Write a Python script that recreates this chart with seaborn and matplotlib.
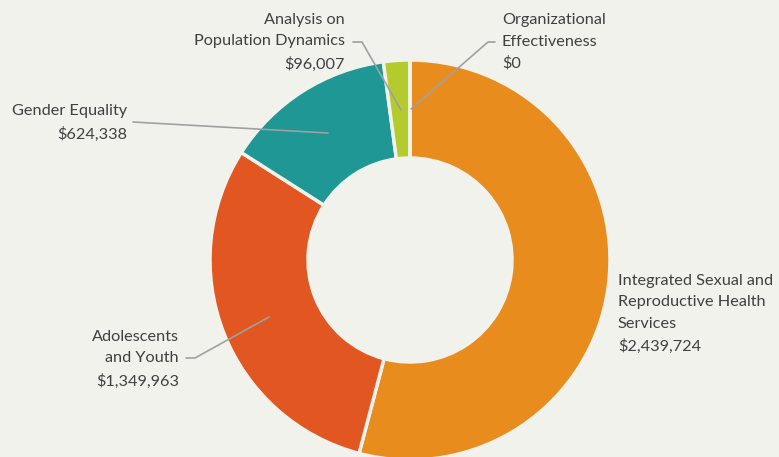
import matplotlib.pyplot as plt
import seaborn as sns

# data
categories = ["Integrated Sexual and\nReproductive Health\nServices",
              "Adolescents\nand Youth",
              "Gender Equality",
              "Analysis on\nPopulation Dynamics",
              "Organizational\nEffectiveness"]
amounts = [2439724, 1349963, 624338, 96007, 0]
colors = ["#E88D1D", "#E25622", "#1F9795", "#B3CB2D", "#8A8A8A"]

bg = "#F2F2ED"
sns.set_theme(style="white")
plt.rcParams["font.family"] = ["Lato", "DejaVu Sans"]

fig = plt.figure(figsize=(7.79, 4.57), dpi=100, facecolor=bg)
ax = fig.add_axes([0, 0, 1, 1])
ax.set_facecolor(bg)

ax.pie(amounts, colors=colors, startangle=90, counterclock=False,
       center=(410, 197), radius=200, frame=True,
       wedgeprops=dict(width=98, edgecolor=bg, linewidth=2.5))
ax.set_xlim(0, 779)
ax.set_ylim(0, 457)
ax.set_aspect("equal")
ax.axis("off")

labels = [f"{c}\n${v:,}" for c, v in zip(categories, amounts)]
txt = dict(fontsize=11.7, color="#404040", linespacing=1.68, va="center")
ax.text(618, 143, labels[0], ha="left", **txt)
ax.text(179, 98, labels[1], ha="right", **txt)
ax.text(127, 334, labels[2], ha="right", **txt)
ax.text(345, 415, labels[3], ha="right", **txt)
ax.text(502, 415, labels[4], ha="left", **txt)

# leader lines
line = dict(color="#A0A0A0", lw=1.2)
ax.plot([269, 195, 186], [140, 99, 99], **line)
ax.plot([328, 133], [324, 335], **line)
ax.plot([401, 362, 353], [347, 415, 415], **line)
ax.plot([411, 488, 495], [348, 415, 415], **line)

fig.savefig("out.png", dpi=100, facecolor=bg)
